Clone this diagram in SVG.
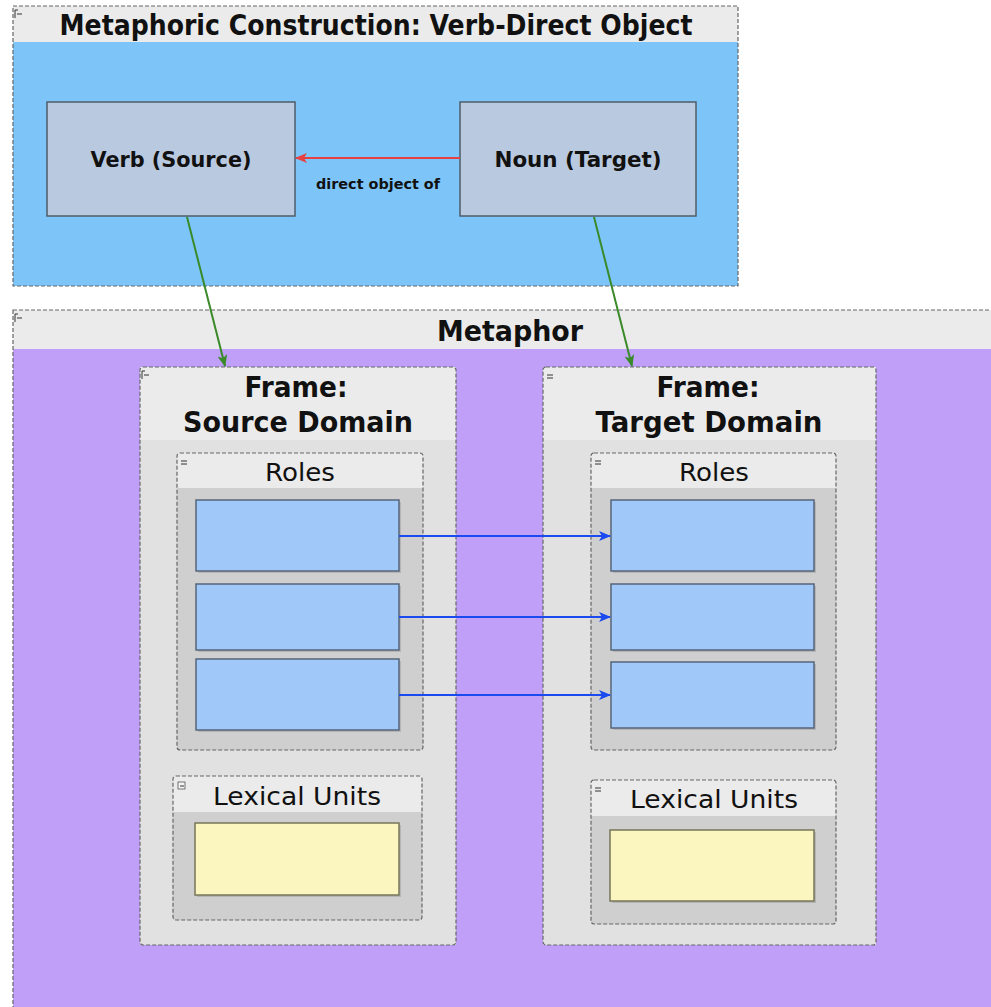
<svg xmlns="http://www.w3.org/2000/svg" width="991" height="1007" viewBox="0 0 991 1007">
<style>
.cont{stroke:#666;stroke-width:1.2;stroke-dasharray:4,2;fill:none}
.hdr{fill:#ebebeb}
.frbody{fill:#e1e1e1}
.grpbody{fill:#cfcfcf}
.node{fill:#b9c9e0;stroke:#4f5b68;stroke-width:1.5}
.role{fill:#a0c8f8;stroke:#55657a;stroke-width:1.5}
.lu{fill:#fbf6bf;stroke:#77775a;stroke-width:1.5}
.shadow{fill:#000;opacity:0.12}
.tb{font-family:"DejaVu Sans",sans-serif;font-weight:bold;fill:#111;text-anchor:middle}
.tr{font-family:"DejaVu Sans",sans-serif;fill:#111;text-anchor:middle}
</style>
<defs>
<marker id="red" markerWidth="12" markerHeight="10" refX="11" refY="5" orient="auto" markerUnits="userSpaceOnUse"><path d="M0,0 L12,5 L0,10 L3,5 z" fill="#e84040"/></marker>
<marker id="green" markerWidth="12" markerHeight="10" refX="11" refY="5" orient="auto" markerUnits="userSpaceOnUse"><path d="M0,0 L12,5 L0,10 L3,5 z" fill="#3a8a2a"/></marker>
<marker id="blue" markerWidth="12" markerHeight="10" refX="11" refY="5" orient="auto" markerUnits="userSpaceOnUse"><path d="M0,0 L12,5 L0,10 L3,5 z" fill="#1a4af0"/></marker>
</defs>
<rect x="0" y="0" width="991" height="1007" fill="#fff"/>

<g id="construction">
<rect x="13" y="6" width="725" height="280" fill="#7dc5f8"/>
<rect x="13" y="6" width="725" height="36" class="hdr"/>
<rect x="13" y="6" width="725" height="280" class="cont"/>
<path d="M15,10 v8 M15,10 h3 M17,14 h5" stroke="#333" stroke-width="1" fill="none"/>
<text x="376" y="35" class="tb" font-size="28" textLength="633" lengthAdjust="spacingAndGlyphs">Metaphoric Construction: Verb-Direct Object</text>
</g>

<g id="verb">
<rect x="47" y="102" width="248" height="114" class="node"/>
<text x="171" y="167" class="tb" font-size="21" textLength="161" lengthAdjust="spacingAndGlyphs">Verb (Source)</text>
</g>
<g id="noun">
<rect x="460" y="102" width="236" height="114" class="node"/>
<text x="578" y="167" class="tb" font-size="21" textLength="167" lengthAdjust="spacingAndGlyphs">Noun (Target)</text>
</g>

<g id="metaphor">
<rect x="13" y="310" width="990" height="710" fill="#bf9ff8"/>
<rect x="13" y="310" width="990" height="39" class="hdr"/>
<rect x="13" y="310" width="990" height="710" class="cont"/>
<path d="M15,314 v8 M15,314 h3 M17,318 h5" stroke="#333" stroke-width="1" fill="none"/>
<text x="510" y="341" class="tb" font-size="29" textLength="146" lengthAdjust="spacingAndGlyphs">Metaphor</text>
</g>

<g id="frame-source">
<rect x="140" y="367" width="316" height="578" class="frbody"/>
<rect x="140" y="367" width="316" height="73" class="hdr"/>
<rect x="140" y="367" width="316" height="578" rx="3" class="cont"/>
<path d="M142,371 v8 M142,371 h3 M144,375 h5" stroke="#333" stroke-width="1" fill="none"/>
<text x="296" y="397" class="tb" font-size="29" textLength="103" lengthAdjust="spacingAndGlyphs">Frame:</text>
<text x="298" y="432" class="tb" font-size="29" textLength="230" lengthAdjust="spacingAndGlyphs">Source Domain</text>
</g>

<g id="frame-target">
<rect x="543" y="367" width="333" height="578" class="frbody"/>
<rect x="543" y="367" width="333" height="73" class="hdr"/>
<rect x="543" y="367" width="333" height="578" rx="3" class="cont"/>
<path d="M547,375 h6 M547,378 h6" stroke="#333" stroke-width="1" fill="none"/>
<text x="708" y="397" class="tb" font-size="29" textLength="103" lengthAdjust="spacingAndGlyphs">Frame:</text>
<text x="709" y="432" class="tb" font-size="29" textLength="227" lengthAdjust="spacingAndGlyphs">Target Domain</text>
</g>

<g id="roles-source">
<rect x="177" y="453" width="246" height="297" class="grpbody"/>
<rect x="177" y="453" width="246" height="35" class="hdr"/>
<rect x="177" y="453" width="246" height="297" rx="3" class="cont"/>
<path d="M181,461 h6 M181,464 h6" stroke="#333" stroke-width="1" fill="none"/>
<text x="300" y="481" class="tr" font-size="25" textLength="70" lengthAdjust="spacingAndGlyphs">Roles</text>
</g>
<g id="role-s1"><rect x="198" y="502" width="203" height="71" class="shadow"/><rect x="196" y="500" width="203" height="71" class="role"/></g>
<g id="role-s2"><rect x="198" y="586" width="203" height="66" class="shadow"/><rect x="196" y="584" width="203" height="66" class="role"/></g>
<g id="role-s3"><rect x="198" y="661" width="203" height="71" class="shadow"/><rect x="196" y="659" width="203" height="71" class="role"/></g>

<g id="roles-target">
<rect x="591" y="453" width="245" height="297" class="grpbody"/>
<rect x="591" y="453" width="245" height="35" class="hdr"/>
<rect x="591" y="453" width="245" height="297" rx="3" class="cont"/>
<path d="M595,461 h6 M595,464 h6" stroke="#333" stroke-width="1" fill="none"/>
<text x="714" y="481" class="tr" font-size="25" textLength="70" lengthAdjust="spacingAndGlyphs">Roles</text>
</g>
<g id="role-t1"><rect x="613" y="502" width="203" height="71" class="shadow"/><rect x="611" y="500" width="203" height="71" class="role"/></g>
<g id="role-t2"><rect x="613" y="586" width="203" height="66" class="shadow"/><rect x="611" y="584" width="203" height="66" class="role"/></g>
<g id="role-t3"><rect x="613" y="664" width="203" height="66" class="shadow"/><rect x="611" y="662" width="203" height="66" class="role"/></g>

<g id="lu-source">
<rect x="173" y="776" width="249" height="144" class="grpbody"/>
<rect x="173" y="776" width="249" height="36" class="hdr"/>
<rect x="173" y="776" width="249" height="144" rx="3" class="cont"/>
<rect x="178" y="782" width="7" height="7" fill="#f4f4f4" stroke="#555" stroke-width="0.8"/>
<path d="M180,786 h4" stroke="#333" stroke-width="1"/>
<text x="297" y="805" class="tr" font-size="25" textLength="168" lengthAdjust="spacingAndGlyphs">Lexical Units</text>
</g>
<g id="lu-s1"><rect x="197" y="825" width="204" height="72" class="shadow"/><rect x="195" y="823" width="204" height="72" class="lu"/></g>

<g id="lu-target">
<rect x="591" y="780" width="245" height="144" class="grpbody"/>
<rect x="591" y="780" width="245" height="36" class="hdr"/>
<rect x="591" y="780" width="245" height="144" rx="3" class="cont"/>
<path d="M595,788 h6 M595,791 h6" stroke="#333" stroke-width="1" fill="none"/>
<text x="714" y="808" class="tr" font-size="25" textLength="168" lengthAdjust="spacingAndGlyphs">Lexical Units</text>
</g>
<g id="lu-t1"><rect x="612" y="832" width="204" height="71" class="shadow"/><rect x="610" y="830" width="204" height="71" class="lu"/></g>

<g id="connectors">
<line x1="460" y1="158" x2="296" y2="158" stroke="#e84040" stroke-width="2" marker-end="url(#red)"/>
<text x="378" y="189" class="tb" font-size="14" textLength="124" lengthAdjust="spacingAndGlyphs">direct object of</text>
<line x1="187" y1="217" x2="225" y2="366" stroke="#3a8a2a" stroke-width="2" marker-end="url(#green)"/>
<line x1="594" y1="217" x2="632" y2="366" stroke="#3a8a2a" stroke-width="2" marker-end="url(#green)"/>
<line x1="399" y1="536" x2="610" y2="536" stroke="#1a4af0" stroke-width="2" marker-end="url(#blue)"/>
<line x1="399" y1="617" x2="610" y2="617" stroke="#1a4af0" stroke-width="2" marker-end="url(#blue)"/>
<line x1="399" y1="695" x2="610" y2="695" stroke="#1a4af0" stroke-width="2" marker-end="url(#blue)"/>
</g>
</svg>
